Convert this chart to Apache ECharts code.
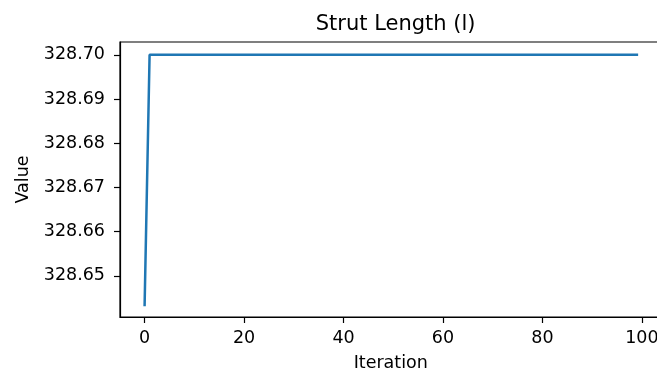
<!DOCTYPE html>
<html>
<head>
<meta charset="utf-8">
<script src="https://cdn.jsdelivr.net/npm/echarts@6/dist/echarts.min.js"></script>
<style>html,body{margin:0;padding:0;background:#fff;}#c{width:657px;height:374px;}</style>
</head>
<body>
<div id="c"></div>
<script>
const title = 'Strut Length (l)';
const xName = 'Iteration';
const yName = 'Value';
const xTicks = [0, 20, 40, 60, 80, 100];
const yTicks = [328.65, 328.66, 328.67, 328.68, 328.69, 328.70];
const values = [
  328.6434, 328.7000, 328.7000, 328.7000, 328.7000, 328.7000, 328.7000, 328.7000, 328.7000, 328.7000,
  328.7000, 328.7000, 328.7000, 328.7000, 328.7000, 328.7000, 328.7000, 328.7000, 328.7000, 328.7000,
  328.7000, 328.7000, 328.7000, 328.7000, 328.7000, 328.7000, 328.7000, 328.7000, 328.7000, 328.7000,
  328.7000, 328.7000, 328.7000, 328.7000, 328.7000, 328.7000, 328.7000, 328.7000, 328.7000, 328.7000,
  328.7000, 328.7000, 328.7000, 328.7000, 328.7000, 328.7000, 328.7000, 328.7000, 328.7000, 328.7000,
  328.7000, 328.7000, 328.7000, 328.7000, 328.7000, 328.7000, 328.7000, 328.7000, 328.7000, 328.7000,
  328.7000, 328.7000, 328.7000, 328.7000, 328.7000, 328.7000, 328.7000, 328.7000, 328.7000, 328.7000,
  328.7000, 328.7000, 328.7000, 328.7000, 328.7000, 328.7000, 328.7000, 328.7000, 328.7000, 328.7000,
  328.7000, 328.7000, 328.7000, 328.7000, 328.7000, 328.7000, 328.7000, 328.7000, 328.7000, 328.7000,
  328.7000, 328.7000, 328.7000, 328.7000, 328.7000, 328.7000, 328.7000, 328.7000, 328.7000, 328.7000
];

const font = 'DejaVu Sans';
const chart = echarts.init(document.getElementById('c'), null, {renderer: 'canvas'});
chart.setOption({
  animation: false,
  backgroundColor: '#fff',
  title: {
    text: title, left: 390.6, top: 9, textAlign: 'center',
    textStyle: {fontFamily: font, fontSize: 21, fontWeight: 'normal', color: '#000'}
  },
  grid: {left: 120, top: 42, width: 541.5, height: 275, show: true, borderColor: '#000', borderWidth: 1.2,
    backgroundColor: 'transparent', outerBoundsMode: 'none', containLabel: false},
  xAxis: {
    type: 'value', min: -4.95, max: 103.95,
    name: xName, nameLocation: 'middle', nameGap: 37,
    nameTextStyle: {fontFamily: font, fontSize: 17.5, color: '#000'},
    axisLine: {show: true, onZero: false, lineStyle: {color: '#000', width: 1.2}},
    axisTick: {show: true, length: 6, lineStyle: {color: '#000', width: 1.2}, customValues: xTicks},
    axisLabel: {fontFamily: font, fontSize: 17.5, color: '#000', margin: 12, customValues: xTicks},
    splitLine: {show: false}
  },
  yAxis: {
    type: 'value', min: 328.6407, max: 328.7029,
    name: yName, nameLocation: 'middle', nameGap: 88, nameRotate: 90,
    nameTextStyle: {fontFamily: font, fontSize: 17.5, color: '#000'},
    axisLine: {show: true, onZero: false, lineStyle: {color: '#000', width: 1.2}},
    axisTick: {show: true, length: 6, lineStyle: {color: '#000', width: 1.2}, customValues: yTicks},
    axisLabel: {fontFamily: font, fontSize: 17.5, color: '#000', margin: 15,
      customValues: yTicks, formatter: v => v.toFixed(2)},
    splitLine: {show: false}
  },
  series: [{
    type: 'line', data: values.map((v, i) => [i, v]),
    showSymbol: false, symbol: 'none',
    lineStyle: {color: '#1f77b4', width: 2.5, cap: 'square'},
    clip: false
  }]
});
</script>
</body>
</html>
